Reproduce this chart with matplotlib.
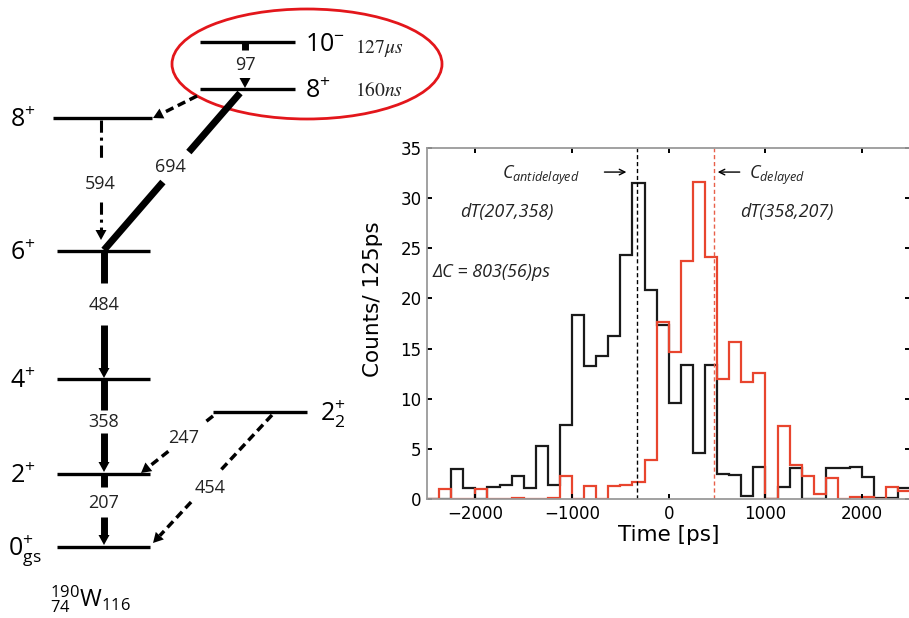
import numpy as np
import matplotlib
matplotlib.use('Agg')
import matplotlib.pyplot as plt
from matplotlib.patches import Ellipse, Polygon

plt.rcParams['mathtext.fontset'] = 'custom'
plt.rcParams['mathtext.rm'] = 'Open Sans'
plt.rcParams['mathtext.it'] = 'Open Sans:italic'
plt.rcParams['mathtext.bf'] = 'Open Sans:bold'

# --- fast-timing spectra, 125 ps bins ---
bin_edges = np.arange(-2500, 2501, 125)
# dT(207,358) -> anti-delayed
counts_antidelayed = [0, 0, 3.0, 1.1, 0, 1.2, 1.4, 2.3, 1.1, 5.3,
                      1.4, 7.4, 18.3, 13.3, 14.3, 16.3, 24.3, 31.5, 20.8, 17.4,
                      9.6, 13.4, 4.6, 13.4, 2.5, 2.4, 0.3, 3.2, 0, 1.2,
                      3.1, 0, 0, 3.1, 3.1, 3.2, 2.2, 0.1, 0.1, 1.1]
# dT(358,207) -> delayed
counts_delayed = [0, 1.0, 0, 0, 1.0, 0, 0, 0.1, 0, 0,
                  0.1, 2.3, 0, 1.3, 0, 1.3, 1.35, 1.7, 3.9, 17.6,
                  14.7, 23.7, 31.6, 24.1, 12.0, 15.7, 11.7, 12.6, 0, 7.3,
                  3.4, 2.3, 0.5, 2.1, 0, 0.2, 0.2, 0, 1.2, 0.8]
centroid_antidelayed = -330
centroid_delayed = 473
delta_c_err = 56

x_ticks = [-2000, -1000, 0, 1000, 2000]
y_ticks = [0, 5, 10, 15, 20, 25, 30, 35]

# --- level scheme of 190W ---
level_spins = [r'10^{-}', r'8^{+}', r'8^{+}', r'6^{+}', r'4^{+}', r'2^{+}',
               r'0_{\mathrm{gs}}^{+}', r'2_{2}^{+}']
half_lives = [r'127\mu s', r'160ns']
gamma_energies = [97, 594, 694, 484, 358, 207, 247, 454]

# level layout in pixels: x0, x1, y, label x
level_pos = [(200, 295, 42, 305), (200, 295, 89, 305), (53, 152, 118, 10),
             (57, 150, 251, 10), (57, 150, 379, 10), (57, 150, 474, 10),
             (57, 150, 547, 8), (213, 307, 412, 320)]
# transitions: start, end, line width, style, label gap, label pos, arrow head
gamma_pos = [((245, 43), (245, 88), 5.0, '-', (0.16, 0.78), (245, 65), True),
             ((101, 120), (101, 240), 2.2, (0, (4, 1.6, 1, 1.6)), (0.33, 0.68), (100, 184), True),
             ((240, 93), (104, 250), 5.0, '-', (0.376, 0.567), (170, 167), False),
             ((104, 251), (104, 378), 5.0, '-', (0.25, 0.58), (104, 305), True),
             ((104, 380), (104, 472), 5.0, '-', (0.33, 0.58), (104, 422), True),
             ((104, 475), (104, 545), 5.0, '-', (0.17, 0.6), (104, 503), True),
             ((213, 416), (141, 473), 2.5, (0, (2.4, 1.4)), (0.1, 0.62), (184, 438), True),
             ((272, 415), (153, 543), 2.5, (0, (2.4, 1.4)), (0.45, 0.68), (210, 488), True)]

fig = plt.figure(figsize=(9.09, 6.18), dpi=100)

# overlay axes in pixel units for the level scheme
dg = fig.add_axes([0, 0, 1, 1])
dg.set_xlim(0, 909)
dg.set_ylim(618, 0)
dg.axis('off')


def gamma_line(p0, p1, lw, ls, gap, head, hw=5.5, hl=10):
    p0 = np.array(p0, float)
    p1 = np.array(p1, float)
    d = p1 - p0
    u = d / np.hypot(*d)
    end = p1 - u * hl if head else p1
    pieces = [(0, 1)] if gap is None else [(0, gap[0]), (gap[1], 1)]
    for a, b in pieces:
        pa = p0 + d * a
        pb = end if b >= 1 else p0 + d * b
        dg.plot([pa[0], pb[0]], [pa[1], pb[1]], color='k', lw=lw, ls=ls,
                solid_capstyle='butt', dash_capstyle='butt')
    if head:
        n = np.array([-u[1], u[0]])
        dg.add_patch(Polygon([p1, end + n * hw, end - n * hw], closed=True,
                             color='k', lw=0))


for (x0, x1, y, lx), spin in zip(level_pos, level_spins):
    dg.plot([x0, x1], [y, y], color='k', lw=2.4, solid_capstyle='butt')
    dg.text(lx, y + 9, '$' + spin + '$', fontsize=18, ha='left', va='baseline')

for (y, t) in zip([48, 90], half_lives):
    dg.text(355, y, '$' + t + '$', fontsize=14, ha='left', va='center',
            math_fontfamily='stix', color='#222222')

for (p0, p1, lw, ls, gap, lp, head), e in zip(gamma_pos, gamma_energies):
    gamma_line(p0, p1, lw, ls, gap, head)
    dg.text(lp[0], lp[1], str(e), fontsize=13, ha='center', va='center',
            family='Open Sans', color='#222222')

# isomer branch to the yrast 8+
gamma_line((197, 96), (153, 118), 2.5, (0, (2.4, 1.4)), None, True)

dg.text(50, 606, r'${}^{190}_{74}\mathrm{W}_{116}$', fontsize=17,
        ha='left', va='baseline')

dg.add_patch(Ellipse((307, 64), 270, 110, fill=False, ec='#e3161b', lw=2.0))

# --- time difference spectra ---
ax = fig.add_axes([427 / 909, (618 - 499) / 618, 483.5 / 909, 351 / 618])
ax.stairs(counts_antidelayed, bin_edges, color='#1a1a1a', lw=1.6)
ax.stairs(counts_delayed, bin_edges, color='#e8452e', lw=1.6)
ax.axvline(centroid_antidelayed, color='k', ls=(0, (3, 2)), lw=1.0)
ax.axvline(centroid_delayed, color='#e8604a', ls=(0, (3, 2)), lw=1.0)

ax.set_xlim(-2500, 2500)
ax.set_ylim(0, 35)
ax.set_xticks(x_ticks)
ax.set_yticks(y_ticks)
ax.tick_params(direction='in', length=3.8, width=1.4, top=True, right=True,
               labelsize=12, pad=4)
for s in ax.spines.values():
    s.set_color('#9a9a9a')
    s.set_linewidth(1.3)
ax.set_xlabel('Time [ps]', fontsize=15.5, labelpad=2)
ax.set_ylabel('Counts/ 125ps', fontsize=15.5)
ax.yaxis.set_label_coords(-0.091, 0.57)

ann = dict(family='Open Sans', style='italic', fontsize=13, color='#222222')
ax.text(-1721, 31.9, r'$C_{antidelayed}$', fontsize=13, ha='left',
        va='baseline', color='#222222')
ax.text(834, 31.9, r'$C_{delayed}$', fontsize=13, ha='left',
        va='baseline', color='#222222')
ax.annotate('', xy=(-438, 32.6), xytext=(-665, 32.6),
            arrowprops=dict(arrowstyle='->', lw=1.0, color='k',
                            shrinkA=0, shrinkB=0))
ax.annotate('', xy=(506, 32.6), xytext=(734, 32.6),
            arrowprops=dict(arrowstyle='->', lw=1.0, color='k',
                            shrinkA=0, shrinkB=0))
ax.text(-1679, 28.6, 'dT(207,358)', ha='center', va='center', **ann)
ax.text(1216, 28.6, 'dT(358,207)', ha='center', va='center', **ann)
delta_c = centroid_delayed - centroid_antidelayed
ax.text(-2447, 22.6, 'ΔC = %d(%d)ps' % (delta_c, delta_c_err),
        ha='left', va='center', **ann)

fig.savefig('out.png', dpi=100)
